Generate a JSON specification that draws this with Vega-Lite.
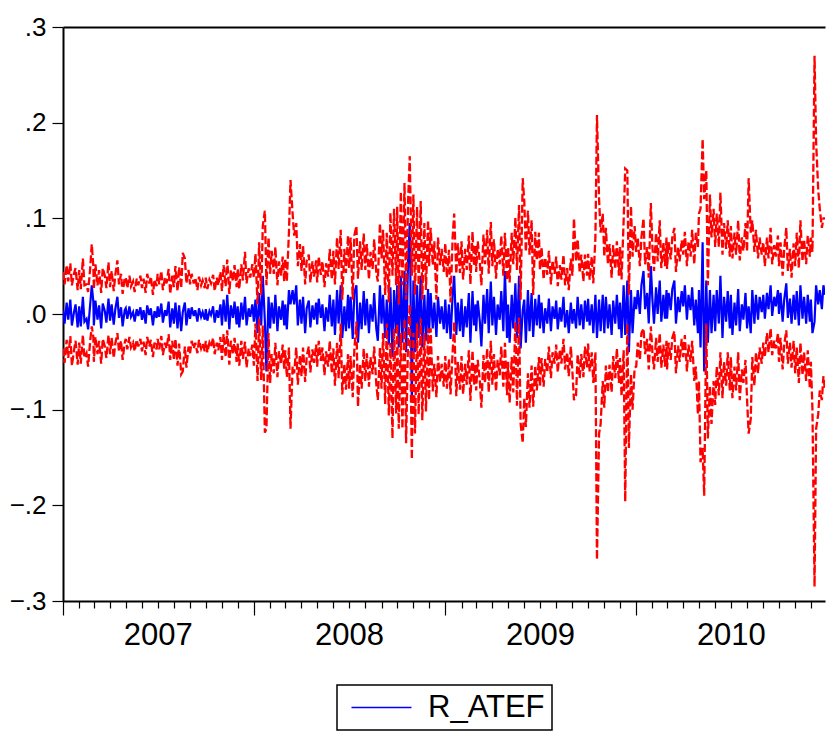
{
"$schema":"https://vega.github.io/schema/vega-lite/v6.json",
"width":762,"height":574,
"autosize":{"type":"none"},
"padding":{"left":63,"top":27,"right":1,"bottom":137},
"background":"white",
"config":{"view":{"stroke":null},"font":"Liberation Sans","legend":{"strokeWidth":1.5}},
"data":{"values":[
{"d":"2007-01-01","r":0.004,"u":0.044,"l":-0.036},{"d":"2007-01-04","r":-0.010,"u":0.031,"l":-0.051},{"d":"2007-01-08","r":0.012,"u":0.051,"l":-0.027},{"d":"2007-01-11","r":-0.006,"u":0.034,"l":-0.046},{"d":"2007-01-15","r":0.015,"u":0.053,"l":-0.023},{"d":"2007-01-18","r":-0.012,"u":0.030,"l":-0.054},{"d":"2007-01-22","r":0.002,"u":0.042,"l":-0.038},{"d":"2007-01-25","r":0.010,"u":0.048,"l":-0.028},{"d":"2007-01-29","r":-0.014,"u":0.025,"l":-0.053},
{"d":"2007-02-01","r":0.008,"u":0.046,"l":-0.030},{"d":"2007-02-04","r":-0.013,"u":0.026,"l":-0.052},{"d":"2007-02-08","r":0.018,"u":0.058,"l":-0.022},{"d":"2007-02-11","r":-0.008,"u":0.030,"l":-0.046},{"d":"2007-02-15","r":-0.005,"u":0.031,"l":-0.041},{"d":"2007-02-18","r":-0.016,"u":0.023,"l":-0.055},{"d":"2007-02-22","r":0.010,"u":0.048,"l":-0.028},{"d":"2007-02-25","r":0.030,"u":0.073,"l":-0.013},{"d":"2007-02-28","r":0.013,"u":0.050,"l":-0.024},
{"d":"2007-03-01","r":-0.012,"u":0.026,"l":-0.050},{"d":"2007-03-04","r":0.014,"u":0.052,"l":-0.024},{"d":"2007-03-08","r":-0.006,"u":0.030,"l":-0.042},{"d":"2007-03-11","r":0.009,"u":0.046,"l":-0.028},{"d":"2007-03-15","r":-0.015,"u":0.022,"l":-0.052},{"d":"2007-03-18","r":0.011,"u":0.048,"l":-0.026},{"d":"2007-03-22","r":0.003,"u":0.040,"l":-0.034},{"d":"2007-03-25","r":-0.009,"u":0.027,"l":-0.046},{"d":"2007-03-29","r":0.016,"u":0.054,"l":-0.022},
{"d":"2007-04-01","r":-0.007,"u":0.028,"l":-0.042},{"d":"2007-04-04","r":0.010,"u":0.045,"l":-0.025},{"d":"2007-04-08","r":-0.011,"u":0.024,"l":-0.046},{"d":"2007-04-11","r":0.005,"u":0.041,"l":-0.031},{"d":"2007-04-15","r":0.018,"u":0.056,"l":-0.020},{"d":"2007-04-18","r":-0.004,"u":0.031,"l":-0.039},{"d":"2007-04-22","r":0.007,"u":0.042,"l":-0.028},{"d":"2007-04-25","r":-0.013,"u":0.021,"l":-0.048},{"d":"2007-04-29","r":0.004,"u":0.038,"l":-0.030},
{"d":"2007-05-01","r":0.006,"u":0.038,"l":-0.026},{"d":"2007-05-04","r":-0.005,"u":0.027,"l":-0.037},{"d":"2007-05-08","r":0.008,"u":0.040,"l":-0.024},{"d":"2007-05-11","r":-0.003,"u":0.029,"l":-0.035},{"d":"2007-05-15","r":0.002,"u":0.034,"l":-0.030},{"d":"2007-05-18","r":-0.008,"u":0.023,"l":-0.039},{"d":"2007-05-22","r":0.005,"u":0.037,"l":-0.027},{"d":"2007-05-25","r":-0.002,"u":0.030,"l":-0.034},{"d":"2007-05-29","r":0.007,"u":0.040,"l":-0.026},
{"d":"2007-06-01","r":-0.006,"u":0.027,"l":-0.039},{"d":"2007-06-04","r":0.004,"u":0.037,"l":-0.029},{"d":"2007-06-08","r":-0.010,"u":0.022,"l":-0.043},{"d":"2007-06-11","r":0.009,"u":0.042,"l":-0.024},{"d":"2007-06-15","r":-0.001,"u":0.032,"l":-0.034},{"d":"2007-06-18","r":0.006,"u":0.039,"l":-0.027},{"d":"2007-06-22","r":-0.012,"u":0.020,"l":-0.045},{"d":"2007-06-25","r":0.003,"u":0.036,"l":-0.030},{"d":"2007-06-29","r":-0.004,"u":0.029,"l":-0.037},
{"d":"2007-07-01","r":0.008,"u":0.042,"l":-0.026},{"d":"2007-07-04","r":-0.003,"u":0.031,"l":-0.037},{"d":"2007-07-08","r":0.011,"u":0.045,"l":-0.023},{"d":"2007-07-11","r":-0.009,"u":0.025,"l":-0.043},{"d":"2007-07-15","r":0.004,"u":0.038,"l":-0.030},{"d":"2007-07-18","r":-0.002,"u":0.032,"l":-0.036},{"d":"2007-07-22","r":0.013,"u":0.047,"l":-0.021},{"d":"2007-07-25","r":-0.014,"u":0.021,"l":-0.048},{"d":"2007-07-29","r":0.006,"u":0.040,"l":-0.028},
{"d":"2007-08-01","r":-0.010,"u":0.028,"l":-0.048},{"d":"2007-08-04","r":0.012,"u":0.050,"l":-0.026},{"d":"2007-08-08","r":-0.015,"u":0.024,"l":-0.054},{"d":"2007-08-11","r":0.009,"u":0.049,"l":-0.031},{"d":"2007-08-15","r":-0.018,"u":0.027,"l":-0.063},{"d":"2007-08-18","r":0.002,"u":0.064,"l":-0.060},{"d":"2007-08-22","r":0.012,"u":0.058,"l":-0.034},{"d":"2007-08-25","r":-0.012,"u":0.032,"l":-0.056},{"d":"2007-08-29","r":0.006,"u":0.046,"l":-0.034},
{"d":"2007-09-01","r":-0.005,"u":0.031,"l":-0.041},{"d":"2007-09-04","r":0.007,"u":0.042,"l":-0.028},{"d":"2007-09-08","r":-0.002,"u":0.032,"l":-0.036},{"d":"2007-09-11","r":0.004,"u":0.038,"l":-0.030},{"d":"2007-09-15","r":-0.008,"u":0.025,"l":-0.041},{"d":"2007-09-18","r":0.006,"u":0.039,"l":-0.027},{"d":"2007-09-22","r":-0.003,"u":0.030,"l":-0.036},{"d":"2007-09-25","r":0.002,"u":0.035,"l":-0.031},{"d":"2007-09-29","r":-0.006,"u":0.027,"l":-0.039},
{"d":"2007-10-01","r":0.005,"u":0.038,"l":-0.028},{"d":"2007-10-04","r":-0.007,"u":0.026,"l":-0.040},{"d":"2007-10-08","r":0.003,"u":0.036,"l":-0.030},{"d":"2007-10-11","r":-0.001,"u":0.032,"l":-0.034},{"d":"2007-10-15","r":0.008,"u":0.041,"l":-0.025},{"d":"2007-10-18","r":-0.009,"u":0.024,"l":-0.042},{"d":"2007-10-22","r":0.004,"u":0.038,"l":-0.030},{"d":"2007-10-25","r":-0.004,"u":0.030,"l":-0.038},{"d":"2007-10-29","r":0.010,"u":0.044,"l":-0.024},
{"d":"2007-11-01","r":-0.012,"u":0.024,"l":-0.048},{"d":"2007-11-04","r":0.015,"u":0.051,"l":-0.021},{"d":"2007-11-08","r":-0.008,"u":0.029,"l":-0.045},{"d":"2007-11-11","r":0.020,"u":0.057,"l":-0.017},{"d":"2007-11-15","r":-0.016,"u":0.021,"l":-0.053},{"d":"2007-11-18","r":0.009,"u":0.046,"l":-0.028},{"d":"2007-11-22","r":-0.004,"u":0.034,"l":-0.042},{"d":"2007-11-25","r":0.013,"u":0.051,"l":-0.025},{"d":"2007-11-29","r":-0.011,"u":0.028,"l":-0.050},
{"d":"2007-12-01","r":0.008,"u":0.047,"l":-0.031},{"d":"2007-12-04","r":-0.014,"u":0.026,"l":-0.054},{"d":"2007-12-08","r":0.012,"u":0.052,"l":-0.028},{"d":"2007-12-11","r":-0.006,"u":0.035,"l":-0.047},{"d":"2007-12-15","r":0.018,"u":0.065,"l":-0.029},{"d":"2007-12-18","r":-0.012,"u":0.032,"l":-0.056},{"d":"2007-12-22","r":0.006,"u":0.048,"l":-0.036},{"d":"2007-12-25","r":-0.003,"u":0.038,"l":-0.044},{"d":"2007-12-29","r":0.010,"u":0.052,"l":-0.032},
{"d":"2008-01-01","r":-0.008,"u":0.038,"l":-0.054},{"d":"2008-01-04","r":0.015,"u":0.063,"l":-0.010},{"d":"2008-01-08","r":-0.020,"u":0.010,"l":-0.070},{"d":"2008-01-11","r":0.022,"u":0.075,"l":-0.005},{"d":"2008-01-15","r":-0.012,"u":0.020,"l":-0.069},{"d":"2008-01-18","r":0.040,"u":0.092,"l":-0.012},{"d":"2008-01-22","r":-0.008,"u":0.108,"l":-0.124},{"d":"2008-01-25","r":-0.060,"u":0.030,"l":-0.120},{"d":"2008-01-29","r":0.018,"u":0.080,"l":-0.020},
{"d":"2008-02-01","r":-0.015,"u":0.042,"l":-0.072},{"d":"2008-02-04","r":0.012,"u":0.066,"l":-0.042},{"d":"2008-02-08","r":-0.010,"u":0.042,"l":-0.062},{"d":"2008-02-11","r":0.020,"u":0.070,"l":-0.030},{"d":"2008-02-15","r":-0.018,"u":0.030,"l":-0.066},{"d":"2008-02-18","r":0.008,"u":0.055,"l":-0.039},{"d":"2008-02-22","r":-0.006,"u":0.040,"l":-0.052},{"d":"2008-02-25","r":0.014,"u":0.060,"l":-0.032},{"d":"2008-02-28","r":-0.012,"u":0.034,"l":-0.058},
{"d":"2008-03-01","r":0.010,"u":0.058,"l":-0.038},{"d":"2008-03-04","r":-0.016,"u":0.034,"l":-0.066},{"d":"2008-03-08","r":0.025,"u":0.085,"l":-0.035},{"d":"2008-03-11","r":0.010,"u":0.140,"l":-0.120},{"d":"2008-03-15","r":0.025,"u":0.105,"l":-0.055},{"d":"2008-03-18","r":0.010,"u":0.082,"l":-0.062},{"d":"2008-03-22","r":0.030,"u":0.095,"l":-0.035},{"d":"2008-03-25","r":-0.012,"u":0.050,"l":-0.074},{"d":"2008-03-29","r":0.015,"u":0.073,"l":-0.043},
{"d":"2008-04-01","r":-0.010,"u":0.045,"l":-0.065},{"d":"2008-04-04","r":0.018,"u":0.071,"l":-0.035},{"d":"2008-04-08","r":-0.020,"u":0.031,"l":-0.071},{"d":"2008-04-11","r":0.006,"u":0.056,"l":-0.044},{"d":"2008-04-15","r":0.014,"u":0.062,"l":-0.034},{"d":"2008-04-18","r":-0.014,"u":0.033,"l":-0.061},{"d":"2008-04-22","r":0.009,"u":0.055,"l":-0.037},{"d":"2008-04-25","r":-0.006,"u":0.039,"l":-0.051},{"d":"2008-04-29","r":0.012,"u":0.056,"l":-0.032},
{"d":"2008-05-01","r":-0.011,"u":0.033,"l":-0.055},{"d":"2008-05-04","r":0.016,"u":0.060,"l":-0.028},{"d":"2008-05-08","r":-0.004,"u":0.041,"l":-0.049},{"d":"2008-05-11","r":0.010,"u":0.055,"l":-0.035},{"d":"2008-05-15","r":-0.018,"u":0.028,"l":-0.064},{"d":"2008-05-18","r":0.007,"u":0.053,"l":-0.039},{"d":"2008-05-22","r":-0.008,"u":0.039,"l":-0.055},{"d":"2008-05-25","r":0.020,"u":0.068,"l":-0.028},{"d":"2008-05-29","r":-0.013,"u":0.036,"l":-0.062},
{"d":"2008-06-01","r":0.015,"u":0.066,"l":-0.036},{"d":"2008-06-04","r":-0.022,"u":0.031,"l":-0.075},{"d":"2008-06-08","r":0.025,"u":0.080,"l":-0.030},{"d":"2008-06-11","r":-0.010,"u":0.047,"l":-0.067},{"d":"2008-06-15","r":0.030,"u":0.088,"l":-0.010},{"d":"2008-06-18","r":-0.025,"u":0.015,"l":-0.084},{"d":"2008-06-22","r":0.008,"u":0.068,"l":-0.052},{"d":"2008-06-25","r":-0.018,"u":0.043,"l":-0.079},{"d":"2008-06-29","r":0.020,"u":0.082,"l":-0.042},
{"d":"2008-07-01","r":-0.015,"u":0.048,"l":-0.078},{"d":"2008-07-04","r":0.018,"u":0.080,"l":-0.044},{"d":"2008-07-08","r":-0.026,"u":0.015,"l":-0.087},{"d":"2008-07-11","r":0.022,"u":0.082,"l":-0.038},{"d":"2008-07-15","r":0.030,"u":0.092,"l":-0.008},{"d":"2008-07-18","r":-0.030,"u":0.037,"l":-0.097},{"d":"2008-07-22","r":0.012,"u":0.076,"l":-0.052},{"d":"2008-07-25","r":-0.016,"u":0.046,"l":-0.078},{"d":"2008-07-29","r":0.024,"u":0.084,"l":-0.036},
{"d":"2008-08-01","r":-0.012,"u":0.046,"l":-0.070},{"d":"2008-08-04","r":0.016,"u":0.073,"l":-0.041},{"d":"2008-08-08","r":-0.020,"u":0.036,"l":-0.076},{"d":"2008-08-11","r":0.010,"u":0.065,"l":-0.045},{"d":"2008-08-15","r":-0.008,"u":0.047,"l":-0.063},{"d":"2008-08-18","r":0.022,"u":0.078,"l":-0.034},{"d":"2008-08-22","r":-0.015,"u":0.043,"l":-0.073},{"d":"2008-08-25","r":-0.028,"u":0.034,"l":-0.090},{"d":"2008-08-29","r":0.030,"u":0.095,"l":-0.035},
{"d":"2008-09-01","r":-0.010,"u":0.058,"l":-0.078},{"d":"2008-09-04","r":0.020,"u":0.088,"l":-0.020},{"d":"2008-09-08","r":-0.025,"u":0.020,"l":-0.094},{"d":"2008-09-11","r":0.015,"u":0.085,"l":-0.010},{"d":"2008-09-15","r":-0.032,"u":0.012,"l":-0.106},{"d":"2008-09-18","r":0.028,"u":0.106,"l":-0.030},{"d":"2008-09-22","r":-0.045,"u":0.040,"l":-0.130},{"d":"2008-09-25","r":0.025,"u":0.110,"l":-0.015},{"d":"2008-09-29","r":-0.020,"u":0.030,"l":-0.104},
{"d":"2008-10-01","r":0.030,"u":0.112,"l":-0.010},{"d":"2008-10-04","r":-0.035,"u":0.010,"l":-0.120},{"d":"2008-10-08","r":0.040,"u":0.128,"l":-0.020},{"d":"2008-10-11","r":-0.030,"u":0.030,"l":-0.120},{"d":"2008-10-15","r":0.045,"u":0.137,"l":-0.005},{"d":"2008-10-18","r":-0.040,"u":0.015,"l":-0.135},{"d":"2008-10-22","r":0.060,"u":0.120,"l":-0.020},{"d":"2008-10-25","r":0.095,"u":0.165,"l":0.010},{"d":"2008-10-29","r":-0.090,"u":0.040,"l":-0.152},
{"d":"2008-11-01","r":0.035,"u":0.125,"l":-0.020},{"d":"2008-11-04","r":-0.040,"u":0.020,"l":-0.125},{"d":"2008-11-08","r":0.030,"u":0.112,"l":-0.010},{"d":"2008-11-11","r":-0.025,"u":0.030,"l":-0.105},{"d":"2008-11-15","r":0.040,"u":0.118,"l":-0.005},{"d":"2008-11-18","r":-0.035,"u":0.015,"l":-0.111},{"d":"2008-11-22","r":0.020,"u":0.095,"l":-0.020},{"d":"2008-11-25","r":-0.028,"u":0.025,"l":-0.102},{"d":"2008-11-29","r":0.026,"u":0.098,"l":-0.015},
{"d":"2008-12-01","r":-0.020,"u":0.050,"l":-0.090},{"d":"2008-12-04","r":0.022,"u":0.090,"l":-0.015},{"d":"2008-12-08","r":-0.015,"u":0.051,"l":-0.081},{"d":"2008-12-11","r":0.012,"u":0.076,"l":-0.052},{"d":"2008-12-15","r":-0.024,"u":0.015,"l":-0.087},{"d":"2008-12-18","r":0.018,"u":0.080,"l":-0.044},{"d":"2008-12-22","r":-0.010,"u":0.051,"l":-0.071},{"d":"2008-12-25","r":0.008,"u":0.068,"l":-0.052},{"d":"2008-12-29","r":-0.016,"u":0.044,"l":-0.076},
{"d":"2009-01-01","r":0.015,"u":0.074,"l":-0.044},{"d":"2009-01-04","r":-0.020,"u":0.038,"l":-0.078},{"d":"2009-01-08","r":0.010,"u":0.067,"l":-0.047},{"d":"2009-01-11","r":-0.026,"u":0.012,"l":-0.084},{"d":"2009-01-15","r":0.020,"u":0.080,"l":-0.040},{"d":"2009-01-18","r":0.040,"u":0.105,"l":-0.008},{"d":"2009-01-22","r":-0.022,"u":0.042,"l":-0.086},{"d":"2009-01-25","r":0.012,"u":0.074,"l":-0.050},{"d":"2009-01-29","r":-0.018,"u":0.043,"l":-0.079},
{"d":"2009-02-01","r":0.016,"u":0.076,"l":-0.044},{"d":"2009-02-04","r":-0.024,"u":0.036,"l":-0.084},{"d":"2009-02-08","r":0.008,"u":0.068,"l":-0.052},{"d":"2009-02-11","r":-0.014,"u":0.046,"l":-0.074},{"d":"2009-02-15","r":0.022,"u":0.082,"l":-0.038},{"d":"2009-02-18","r":-0.030,"u":0.031,"l":-0.091},{"d":"2009-02-22","r":0.024,"u":0.086,"l":-0.038},{"d":"2009-02-25","r":-0.012,"u":0.050,"l":-0.074},{"d":"2009-02-28","r":0.010,"u":0.072,"l":-0.052},
{"d":"2009-03-01","r":-0.018,"u":0.044,"l":-0.080},{"d":"2009-03-04","r":0.014,"u":0.076,"l":-0.048},{"d":"2009-03-08","r":-0.008,"u":0.054,"l":-0.070},{"d":"2009-03-11","r":-0.034,"u":0.030,"l":-0.098},{"d":"2009-03-15","r":0.020,"u":0.083,"l":-0.043},{"d":"2009-03-18","r":-0.010,"u":0.052,"l":-0.072},{"d":"2009-03-22","r":0.026,"u":0.088,"l":-0.036},{"d":"2009-03-25","r":-0.020,"u":0.042,"l":-0.082},{"d":"2009-03-29","r":0.034,"u":0.096,"l":-0.028},
{"d":"2009-04-01","r":-0.012,"u":0.050,"l":-0.074},{"d":"2009-04-04","r":0.018,"u":0.078,"l":-0.042},{"d":"2009-04-08","r":-0.022,"u":0.037,"l":-0.081},{"d":"2009-04-11","r":0.010,"u":0.068,"l":-0.048},{"d":"2009-04-15","r":-0.006,"u":0.052,"l":-0.064},{"d":"2009-04-18","r":0.024,"u":0.082,"l":-0.034},{"d":"2009-04-22","r":-0.018,"u":0.040,"l":-0.076},{"d":"2009-04-25","r":0.045,"u":0.085,"l":-0.030},{"d":"2009-04-29","r":-0.025,"u":0.035,"l":-0.085},
{"d":"2009-05-01","r":0.010,"u":0.070,"l":-0.050},{"d":"2009-05-04","r":-0.030,"u":0.033,"l":-0.093},{"d":"2009-05-08","r":0.020,"u":0.085,"l":-0.045},{"d":"2009-05-11","r":-0.015,"u":0.052,"l":-0.082},{"d":"2009-05-15","r":0.032,"u":0.101,"l":-0.008},{"d":"2009-05-18","r":-0.025,"u":0.046,"l":-0.096},{"d":"2009-05-22","r":0.040,"u":0.114,"l":-0.004},{"d":"2009-05-25","r":-0.036,"u":0.015,"l":-0.114},{"d":"2009-05-29","r":0.004,"u":0.142,"l":-0.135},
{"d":"2009-06-01","r":0.015,"u":0.118,"l":-0.088},{"d":"2009-06-04","r":-0.030,"u":0.065,"l":-0.118},{"d":"2009-06-08","r":0.025,"u":0.108,"l":-0.062},{"d":"2009-06-11","r":-0.018,"u":0.062,"l":-0.098},{"d":"2009-06-15","r":0.022,"u":0.098,"l":-0.054},{"d":"2009-06-18","r":-0.024,"u":0.020,"l":-0.097},{"d":"2009-06-22","r":0.016,"u":0.086,"l":-0.054},{"d":"2009-06-25","r":-0.012,"u":0.056,"l":-0.080},{"d":"2009-06-29","r":0.020,"u":0.085,"l":-0.045},
{"d":"2009-07-01","r":-0.015,"u":0.046,"l":-0.076},{"d":"2009-07-04","r":0.012,"u":0.070,"l":-0.046},{"d":"2009-07-08","r":-0.020,"u":0.036,"l":-0.076},{"d":"2009-07-11","r":0.006,"u":0.059,"l":-0.047},{"d":"2009-07-15","r":-0.010,"u":0.041,"l":-0.061},{"d":"2009-07-18","r":0.016,"u":0.066,"l":-0.034},{"d":"2009-07-22","r":-0.018,"u":0.031,"l":-0.067},{"d":"2009-07-25","r":0.008,"u":0.056,"l":-0.040},{"d":"2009-07-29","r":-0.005,"u":0.042,"l":-0.052},
{"d":"2009-08-01","r":0.014,"u":0.060,"l":-0.032},{"d":"2009-08-04","r":-0.016,"u":0.029,"l":-0.061},{"d":"2009-08-08","r":0.007,"u":0.051,"l":-0.037},{"d":"2009-08-11","r":-0.008,"u":0.036,"l":-0.052},{"d":"2009-08-15","r":0.018,"u":0.062,"l":-0.026},{"d":"2009-08-18","r":-0.014,"u":0.030,"l":-0.058},{"d":"2009-08-22","r":0.004,"u":0.048,"l":-0.040},{"d":"2009-08-25","r":-0.020,"u":0.025,"l":-0.065},{"d":"2009-08-29","r":0.012,"u":0.058,"l":-0.034},
{"d":"2009-09-01","r":-0.010,"u":0.040,"l":-0.060},{"d":"2009-09-04","r":0.005,"u":0.100,"l":-0.090},{"d":"2009-09-08","r":-0.015,"u":0.055,"l":-0.085},{"d":"2009-09-11","r":0.018,"u":0.078,"l":-0.042},{"d":"2009-09-15","r":-0.012,"u":0.043,"l":-0.067},{"d":"2009-09-18","r":0.010,"u":0.062,"l":-0.042},{"d":"2009-09-22","r":-0.016,"u":0.034,"l":-0.066},{"d":"2009-09-25","r":0.014,"u":0.062,"l":-0.034},{"d":"2009-09-29","r":-0.008,"u":0.040,"l":-0.056},
{"d":"2009-10-01","r":0.016,"u":0.063,"l":-0.031},{"d":"2009-10-04","r":-0.012,"u":0.036,"l":-0.060},{"d":"2009-10-08","r":0.010,"u":0.060,"l":-0.040},{"d":"2009-10-11","r":-0.020,"u":0.032,"l":-0.072},{"d":"2009-10-15","r":0.020,"u":0.080,"l":-0.040},{"d":"2009-10-18","r":-0.025,"u":0.208,"l":-0.257},{"d":"2009-10-22","r":0.015,"u":0.120,"l":-0.125},{"d":"2009-10-25","r":-0.018,"u":0.085,"l":-0.115},{"d":"2009-10-29","r":0.020,"u":0.105,"l":-0.070},
{"d":"2009-11-01","r":-0.020,"u":0.060,"l":-0.098},{"d":"2009-11-04","r":0.018,"u":0.090,"l":-0.054},{"d":"2009-11-08","r":-0.015,"u":0.052,"l":-0.082},{"d":"2009-11-11","r":0.010,"u":0.073,"l":-0.053},{"d":"2009-11-15","r":-0.022,"u":0.038,"l":-0.082},{"d":"2009-11-18","r":0.014,"u":0.072,"l":-0.044},{"d":"2009-11-22","r":-0.010,"u":0.047,"l":-0.067},{"d":"2009-11-25","r":0.020,"u":0.076,"l":-0.036},{"d":"2009-11-29","r":-0.016,"u":0.040,"l":-0.072},
{"d":"2009-12-01","r":0.012,"u":0.070,"l":-0.046},{"d":"2009-12-04","r":-0.025,"u":0.036,"l":-0.086},{"d":"2009-12-08","r":0.030,"u":0.098,"l":-0.038},{"d":"2009-12-11","r":-0.022,"u":0.152,"l":-0.196},{"d":"2009-12-15","r":0.035,"u":0.150,"l":-0.010},{"d":"2009-12-18","r":-0.040,"u":0.020,"l":-0.140},{"d":"2009-12-22","r":0.025,"u":0.113,"l":-0.063},{"d":"2009-12-25","r":-0.020,"u":0.060,"l":-0.100},{"d":"2009-12-29","r":0.018,"u":0.092,"l":-0.056},
{"d":"2010-01-01","r":0.005,"u":0.065,"l":-0.055},{"d":"2010-01-04","r":0.025,"u":0.080,"l":-0.030},{"d":"2010-01-08","r":0.000,"u":0.050,"l":-0.048},{"d":"2010-01-11","r":0.030,"u":0.080,"l":-0.020},{"d":"2010-01-15","r":0.045,"u":0.100,"l":-0.015},{"d":"2010-01-18","r":0.005,"u":0.052,"l":-0.042},{"d":"2010-01-22","r":0.022,"u":0.070,"l":-0.026},{"d":"2010-01-25","r":-0.010,"u":0.038,"l":-0.058},{"d":"2010-01-29","r":0.050,"u":0.116,"l":-0.013},
{"d":"2010-02-01","r":0.015,"u":0.070,"l":-0.040},{"d":"2010-02-04","r":-0.010,"u":0.045,"l":-0.058},{"d":"2010-02-08","r":0.028,"u":0.085,"l":-0.025},{"d":"2010-02-11","r":0.000,"u":0.055,"l":-0.050},{"d":"2010-02-15","r":0.035,"u":0.098,"l":-0.020},{"d":"2010-02-18","r":-0.008,"u":0.048,"l":-0.056},{"d":"2010-02-22","r":0.020,"u":0.075,"l":-0.032},{"d":"2010-02-25","r":-0.005,"u":0.050,"l":-0.055},{"d":"2010-02-28","r":0.025,"u":0.080,"l":-0.028},
{"d":"2010-03-01","r":-0.005,"u":0.047,"l":-0.058},{"d":"2010-03-04","r":0.022,"u":0.075,"l":-0.030},{"d":"2010-03-08","r":0.004,"u":0.057,"l":-0.048},{"d":"2010-03-11","r":0.026,"u":0.080,"l":-0.025},{"d":"2010-03-15","r":0.035,"u":0.090,"l":-0.018},{"d":"2010-03-18","r":-0.010,"u":0.044,"l":-0.062},{"d":"2010-03-22","r":0.018,"u":0.070,"l":-0.033},{"d":"2010-03-25","r":0.002,"u":0.055,"l":-0.050},{"d":"2010-03-29","r":0.024,"u":0.077,"l":-0.026},
{"d":"2010-04-01","r":0.008,"u":0.062,"l":-0.045},{"d":"2010-04-04","r":0.030,"u":0.086,"l":-0.022},{"d":"2010-04-08","r":-0.006,"u":0.050,"l":-0.060},{"d":"2010-04-11","r":0.020,"u":0.076,"l":-0.032},{"d":"2010-04-15","r":0.004,"u":0.060,"l":-0.050},{"d":"2010-04-18","r":0.028,"u":0.088,"l":-0.028},{"d":"2010-04-22","r":-0.012,"u":0.052,"l":-0.070},{"d":"2010-04-25","r":0.015,"u":0.085,"l":-0.055},{"d":"2010-04-29","r":-0.020,"u":0.070,"l":-0.105},
{"d":"2010-05-01","r":0.025,"u":0.105,"l":-0.070},{"d":"2010-05-04","r":-0.035,"u":0.110,"l":-0.155},{"d":"2010-05-08","r":0.075,"u":0.183,"l":-0.140},{"d":"2010-05-11","r":-0.060,"u":0.120,"l":-0.190},{"d":"2010-05-15","r":0.035,"u":0.150,"l":-0.010},{"d":"2010-05-18","r":-0.030,"u":0.030,"l":-0.130},{"d":"2010-05-22","r":0.025,"u":0.125,"l":-0.075},{"d":"2010-05-25","r":-0.020,"u":0.080,"l":-0.115},{"d":"2010-05-29","r":0.020,"u":0.110,"l":-0.070},
{"d":"2010-06-01","r":-0.018,"u":0.070,"l":-0.095},{"d":"2010-06-04","r":0.025,"u":0.105,"l":-0.055},{"d":"2010-06-08","r":-0.010,"u":0.070,"l":-0.085},{"d":"2010-06-11","r":0.040,"u":0.127,"l":-0.040},{"d":"2010-06-15","r":-0.025,"u":0.062,"l":-0.088},{"d":"2010-06-18","r":0.018,"u":0.095,"l":-0.050},{"d":"2010-06-22","r":-0.008,"u":0.068,"l":-0.075},{"d":"2010-06-25","r":0.024,"u":0.098,"l":-0.040},{"d":"2010-06-29","r":-0.015,"u":0.060,"l":-0.080},
{"d":"2010-07-01","r":0.020,"u":0.092,"l":-0.045},{"d":"2010-07-04","r":-0.022,"u":0.058,"l":-0.088},{"d":"2010-07-08","r":0.012,"u":0.085,"l":-0.055},{"d":"2010-07-11","r":-0.012,"u":0.062,"l":-0.080},{"d":"2010-07-15","r":0.026,"u":0.098,"l":-0.040},{"d":"2010-07-18","r":-0.018,"u":0.056,"l":-0.090},{"d":"2010-07-22","r":0.010,"u":0.080,"l":-0.058},{"d":"2010-07-25","r":-0.006,"u":0.066,"l":-0.072},{"d":"2010-07-29","r":0.022,"u":0.095,"l":-0.048},
{"d":"2010-08-01","r":-0.015,"u":0.065,"l":-0.090},{"d":"2010-08-04","r":0.008,"u":0.142,"l":-0.125},{"d":"2010-08-08","r":-0.020,"u":0.085,"l":-0.110},{"d":"2010-08-11","r":0.025,"u":0.098,"l":-0.045},{"d":"2010-08-15","r":-0.010,"u":0.065,"l":-0.075},{"d":"2010-08-18","r":0.020,"u":0.088,"l":-0.040},{"d":"2010-08-22","r":-0.006,"u":0.058,"l":-0.062},{"d":"2010-08-25","r":0.018,"u":0.080,"l":-0.035},{"d":"2010-08-29","r":0.002,"u":0.062,"l":-0.052},
{"d":"2010-09-01","r":0.020,"u":0.075,"l":-0.030},{"d":"2010-09-04","r":-0.005,"u":0.050,"l":-0.045},{"d":"2010-09-08","r":0.022,"u":0.080,"l":-0.020},{"d":"2010-09-11","r":0.005,"u":0.058,"l":-0.040},{"d":"2010-09-15","r":0.030,"u":0.090,"l":-0.015},{"d":"2010-09-18","r":-0.002,"u":0.052,"l":-0.043},{"d":"2010-09-22","r":0.018,"u":0.072,"l":-0.028},{"d":"2010-09-25","r":0.008,"u":0.060,"l":-0.036},{"d":"2010-09-29","r":0.025,"u":0.082,"l":-0.020},
{"d":"2010-10-01","r":0.000,"u":0.050,"l":-0.050},{"d":"2010-10-04","r":0.022,"u":0.075,"l":-0.025},{"d":"2010-10-08","r":-0.008,"u":0.040,"l":-0.058},{"d":"2010-10-11","r":0.015,"u":0.068,"l":-0.032},{"d":"2010-10-15","r":0.032,"u":0.090,"l":-0.017},{"d":"2010-10-18","r":-0.004,"u":0.045,"l":-0.052},{"d":"2010-10-22","r":0.016,"u":0.068,"l":-0.030},{"d":"2010-10-25","r":-0.010,"u":0.038,"l":-0.056},{"d":"2010-10-29","r":0.020,"u":0.074,"l":-0.028},
{"d":"2010-11-01","r":-0.006,"u":0.050,"l":-0.062},{"d":"2010-11-04","r":0.024,"u":0.085,"l":-0.035},{"d":"2010-11-08","r":-0.012,"u":0.048,"l":-0.072},{"d":"2010-11-11","r":0.030,"u":0.098,"l":-0.030},{"d":"2010-11-15","r":-0.005,"u":0.055,"l":-0.064},{"d":"2010-11-18","r":0.018,"u":0.078,"l":-0.040},{"d":"2010-11-22","r":-0.010,"u":0.052,"l":-0.070},{"d":"2010-11-25","r":0.020,"u":0.082,"l":-0.038},{"d":"2010-11-29","r":-0.008,"u":0.060,"l":-0.078},
{"d":"2010-12-01","r":0.015,"u":0.080,"l":-0.050},{"d":"2010-12-04","r":-0.020,"u":0.065,"l":-0.100},{"d":"2010-12-08","r":-0.008,"u":0.270,"l":-0.285},{"d":"2010-12-11","r":0.030,"u":0.180,"l":-0.120},{"d":"2010-12-15","r":0.010,"u":0.130,"l":-0.105},{"d":"2010-12-18","r":0.025,"u":0.110,"l":-0.080},{"d":"2010-12-22","r":0.005,"u":0.090,"l":-0.090},{"d":"2010-12-25","r":0.030,"u":0.100,"l":-0.065},{"d":"2010-12-28","r":0.020,"u":0.100,"l":-0.080}
]},
"resolve":{"axis":{"x":"independent"}},
"layer":[
{"mark":{"type":"line","strokeWidth":2.2,"clip":true},
 "encoding":{
  "x":{"field":"d","type":"temporal","scale":{"type":"utc","domain":[{"year":2007,"month":1,"date":1,"utc":true},{"year":2010,"month":12,"date":28,"utc":true}]},
   "axis":{"orient":"bottom","title":null,"grid":false,"tickCount":{"interval":"month","step":1},"labelExpr":"utcmonth(datum.value)==6 ? utcFormat(datum.value,'%Y') : ''","tickSize":{"condition":{"test":"utcmonth(datum.value)==0","value":14},"value":7},"tickColor":"black","tickWidth":1.2,"domainColor":"black","domainWidth":2,"labelFontSize":31,"labelColor":"black","labelPadding":12,"labelOverlap":false,"labelFlush":false,"labelBound":false}},
  "y":{"field":"r","type":"quantitative","scale":{"domain":[-0.3,0.3],"nice":false,"zero":false},
   "axis":{"title":null,"grid":false,"values":[-0.3,-0.2,-0.1,0,0.1,0.2,0.3],"labelExpr":"replace(format(datum.value,'.1f'),'0.','.')","tickSize":11,"tickWidth":1.2,"tickColor":"black","domainColor":"black","domainWidth":2,"labelFontSize":26,"labelColor":"black","labelPadding":6}},
  "color":{"datum":"R_ATEF","type":"nominal","scale":{"domain":["R_ATEF"],"range":["#0000ff"]},
   "legend":{"title":null,"orient":"none","legendX":274,"legendY":658,"symbolType":"M-1.333,0H8.667","symbolSize":144,"symbolStrokeWidth":1.6,"labelFontSize":31,"labelColor":"black","labelOffset":53,"padding":7,"strokeColor":"black","fillColor":"white"}}
 }},
{"mark":{"type":"line","color":"#ff0000","strokeWidth":2.3,"strokeDash":[8,3],"clip":true},
 "encoding":{
  "x":{"field":"d","type":"temporal","scale":{"type":"utc","domain":[{"year":2007,"month":1,"date":1,"utc":true},{"year":2010,"month":12,"date":28,"utc":true}]},
   "axis":{"orient":"top","title":null,"grid":false,"ticks":false,"labels":false,"domainColor":"black","domainWidth":2}},
  "y":{"field":"u","type":"quantitative","scale":{"domain":[-0.3,0.3],"nice":false,"zero":false},
   "axis":{"title":null,"grid":false,"values":[-0.3,-0.2,-0.1,0,0.1,0.2,0.3],"labelExpr":"replace(format(datum.value,'.1f'),'0.','.')","tickSize":11,"tickWidth":1.2,"tickColor":"black","domainColor":"black","domainWidth":2,"labelFontSize":26,"labelColor":"black","labelPadding":6}}
 }},
{"mark":{"type":"line","color":"#ff0000","strokeWidth":2.3,"strokeDash":[8,3],"clip":true},
 "encoding":{
  "x":{"field":"d","type":"temporal","scale":{"type":"utc","domain":[{"year":2007,"month":1,"date":1,"utc":true},{"year":2010,"month":12,"date":28,"utc":true}]},"axis":null},
  "y":{"field":"l","type":"quantitative","scale":{"domain":[-0.3,0.3],"nice":false,"zero":false},
   "axis":{"title":null,"grid":false,"values":[-0.3,-0.2,-0.1,0,0.1,0.2,0.3],"labelExpr":"replace(format(datum.value,'.1f'),'0.','.')","tickSize":11,"tickWidth":1.2,"tickColor":"black","domainColor":"black","domainWidth":2,"labelFontSize":26,"labelColor":"black","labelPadding":6}}
 }}
]
}
